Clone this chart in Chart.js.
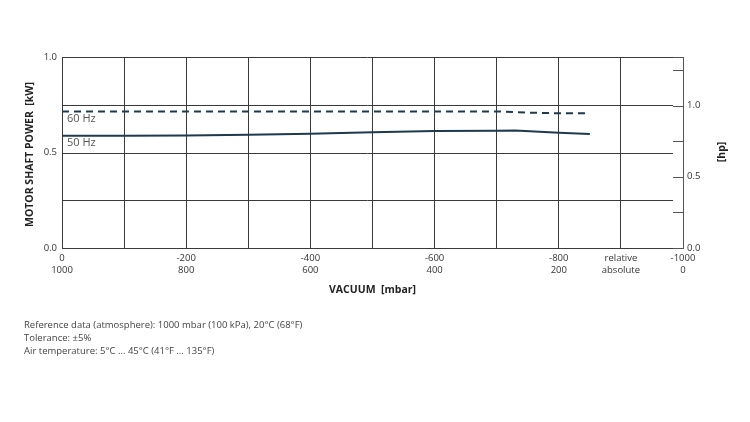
<!DOCTYPE html>
<html>
<head>
<meta charset="utf-8">
<script src="https://cdn.jsdelivr.net/npm/chart.js@4"></script>
<style>
  html, body { margin: 0; padding: 0; background: #fff; }
  #wrap { position: relative; width: 750px; height: 422px; }
  #footer {
    position: absolute; left: 24px; top: 318px;
    font-family: "Open Sans", sans-serif; font-size: 9.5px; line-height: 13px; color: #444;
  }
</style>
</head>
<body>
<div id="wrap">
  <canvas id="powerChart" width="750" height="422"></canvas>
  <div id="footer">
    Reference data (atmosphere): 1000 mbar (100 kPa), 20°C (68°F)<br>
    Tolerance: ±5%<br>
    Air temperature: 5°C ... 45°C (41°F ... 135°F)
  </div>
</div>
<script>
// vacuum in mbar below atmosphere (plotted 0..1000)
const vac50 = [0, 100, 200, 300, 400, 500, 600, 700, 730, 800, 850];
const kw50 = [0.588, 0.588, 0.589, 0.593, 0.598, 0.606, 0.613, 0.614, 0.615, 0.604, 0.597];
const vac60 = [0, 100, 200, 300, 400, 500, 600, 700, 760, 800, 850];
const kw60 = [0.715, 0.715, 0.715, 0.715, 0.715, 0.715, 0.715, 0.715, 0.708, 0.705, 0.705];

const relLabels = ['0', '', '-200', '', '-400', '', '-600', '', '-800', 'relative', '-1000'];
const absLabels = ['1000', '', '800', '', '600', '', '400', '', '200', 'absolute', '0'];

const KW_PER_HP = 0.7457;
const lineColor = '#1d3a4e';
const gridColor = '#3a3a3a';
const tickFont = { family: 'Open Sans', size: 9.5 };

const extras = {
  id: 'extras',
  afterDraw(chart) {
    const { ctx, chartArea: a, scales } = chart;
    ctx.save();
    // horizontal grid, stopping short of the right axis
    ctx.strokeStyle = gridColor;
    ctx.lineWidth = 1;
    scales.y.ticks.forEach(t => {
      const py = Math.round(scales.y.getPixelForValue(t.value)) + 0.5;
      ctx.beginPath();
      ctx.moveTo(a.left, py);
      ctx.lineTo(a.right - 10, py);
      ctx.stroke();
    });
    // inner tick marks on hp axis
    ctx.strokeStyle = '#555';
    scales.hp.ticks.forEach(t => {
      const py = Math.round(scales.hp.getPixelForValue(t.value)) + 0.5;
      ctx.beginPath();
      ctx.moveTo(a.right - 10, py);
      ctx.lineTo(a.right, py);
      ctx.stroke();
    });
    // series labels
    ctx.fillStyle = '#555';
    ctx.font = '11px "Open Sans"';
    ctx.textBaseline = 'top';
    ctx.fillText('60 Hz', a.left + 5, scales.y.getPixelForValue(kw60[0]) + 2);
    ctx.fillText('50 Hz', a.left + 5, scales.y.getPixelForValue(kw50[0]) + 2);
    // axis titles
    ctx.fillStyle = '#222';
    ctx.font = 'bold 10.5px "Open Sans"';
    ctx.textAlign = 'center';
    ctx.textBaseline = 'middle';
    ctx.fillText('VACUUM  [mbar]', (a.left + a.right) / 2, 290);
    ctx.save();
    ctx.translate(30, (a.top + a.bottom) / 2 + 2);
    ctx.rotate(-Math.PI / 2);
    ctx.fillText('MOTOR SHAFT POWER  [kW]', 0, 0);
    ctx.restore();
    ctx.save();
    ctx.translate(722, 152);
    ctx.rotate(-Math.PI / 2);
    ctx.fillText('[hp]', 0, 0);
    ctx.restore();
    ctx.restore();
  }
};

new Chart(document.getElementById('powerChart'), {
  type: 'line',
  data: {
    datasets: [
      {
        label: '60 Hz',
        data: vac60.map((v, i) => ({ x: v, y: kw60[i] })),
        borderColor: lineColor,
        borderWidth: 2,
        borderDash: [7, 5],
        pointRadius: 0,
        fill: false,
      },
      {
        label: '50 Hz',
        data: vac50.map((v, i) => ({ x: v, y: kw50[i] })),
        borderColor: lineColor,
        borderWidth: 2,
        pointRadius: 0,
        fill: false,
      },
    ],
  },
  options: {
    responsive: false,
    animation: false,
    layout: { padding: { top: 57, left: 0, right: 0, bottom: 0 } },
    plugins: {
      legend: { display: false },
      tooltip: { enabled: false },
    },
    scales: {
      x: {
        type: 'linear',
        min: 0,
        max: 1000,
        afterFit: s => { s.height = 174; },
        border: { color: gridColor },
        grid: { color: gridColor, drawTicks: false },
        ticks: {
          stepSize: 100,
          autoSkip: false,
          maxRotation: 0,
          padding: 5,
          color: '#333',
          font: tickFont,
          callback: v => {
            const i = Math.round(v / 100);
            return relLabels[i] ? [relLabels[i], absLabels[i]] : '';
          },
        },
      },
      y: {
        position: 'left',
        min: 0,
        max: 1,
        afterFit: s => { s.width = 62; },
        border: { color: gridColor },
        grid: { drawOnChartArea: false, drawTicks: false },
        ticks: {
          stepSize: 0.25,
          padding: 5,
          color: '#333',
          font: tickFont,
          callback: v => (Math.abs(v * 2 - Math.round(v * 2)) < 1e-6 ? v.toFixed(1) : ''),
        },
      },
      hp: {
        position: 'right',
        min: 0,
        max: 1 / KW_PER_HP,
        afterFit: s => { s.width = 67; },
        border: { color: '#555' },
        grid: { drawOnChartArea: false, drawTicks: false },
        ticks: {
          stepSize: 0.25,
          padding: 4,
          color: '#333',
          font: tickFont,
          callback: v => (Math.abs(v * 2 - Math.round(v * 2)) < 1e-6 ? v.toFixed(1) : ''),
        },
      },
    },
  },
  plugins: [extras],
});
</script>
</body>
</html>
